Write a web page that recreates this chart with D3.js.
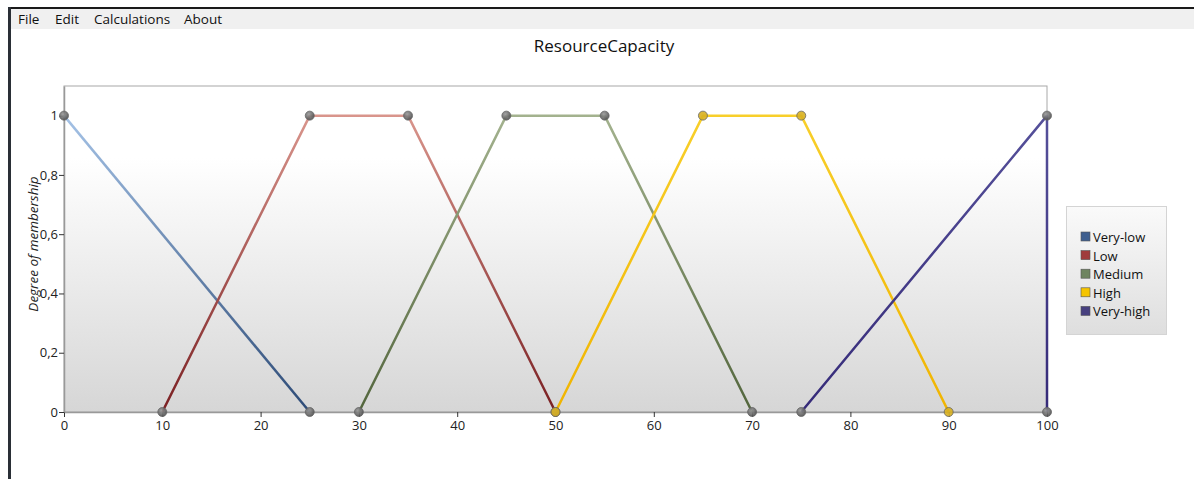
<!DOCTYPE html>
<html>
<head>
<meta charset="utf-8">
<script src="https://cdn.jsdelivr.net/npm/d3@7"></script>
<style>
  html, body { margin: 0; padding: 0; background: #fff; }
  svg { display: block; font-family: "Open Sans", "Noto Sans", sans-serif; }
</style>
</head>
<body>
<svg id="chart" width="1194" height="479"></svg>
<script>
// Membership functions of the "ResourceCapacity" linguistic variable
const seriesNames = ["Very-low", "Low", "Medium", "High", "Very-high"];
const xVeryLow  = [0, 25];           const yVeryLow  = [1, 0];
const xLow      = [10, 25, 35, 50];  const yLow      = [0, 1, 1, 0];
const xMedium   = [30, 45, 55, 70];  const yMedium   = [0, 1, 1, 0];
const xHigh     = [50, 65, 75, 90];  const yHigh     = [0, 1, 1, 0];
const xVeryHigh = [75, 100, 100];    const yVeryHigh = [0, 1, 0];
const xTicks = [0, 10, 20, 30, 40, 50, 60, 70, 80, 90, 100];
const yTicks = [0, 0.2, 0.4, 0.6, 0.8, 1];
const menuItems = ["File", "Edit", "Calculations", "About"];

// Line colours: light at the top of the plot, darker toward the bottom
const lineColors = [
  ["#a4c2e6", "#2c4a76"],
  ["#d9958c", "#7a1f22"],
  ["#a3b28e", "#52653c"],
  ["#f8cf2a", "#f0b400"],
  ["#55509a", "#352a78"]
];
const swatchColors = ["#3f5f8f", "#a03c3c", "#6f8560", "#f5c400", "#47407f"];

const series = [
  [xVeryLow, yVeryLow], [xLow, yLow], [xMedium, yMedium], [xHigh, yHigh], [xVeryHigh, yVeryHigh]
].map(([xs, ys], i) => ({ name: seriesNames[i], pts: xs.map((x, j) => ({ x, y: ys[j] })) }));

const svg = d3.select("#chart");
const defs = svg.append("defs");

// Window frame and menu bar
svg.append("rect").attr("x", 0).attr("y", 0).attr("width", 1194).attr("height", 479).attr("fill", "#fff");
svg.append("rect").attr("x", 10).attr("y", 9).attr("width", 1184).attr("height", 20).attr("fill", "#f0f0f0");
svg.append("rect").attr("x", 8).attr("y", 7).attr("width", 1186).attr("height", 2).attr("fill", "#1a1a1a");
svg.append("rect").attr("x", 8).attr("y", 7).attr("width", 3).attr("height", 472).attr("fill", "#2a2f36");
const menuX = [18, 55, 94, 184];
svg.selectAll("text.menu").data(menuItems).join("text")
  .attr("class", "menu").attr("x", (d, i) => menuX[i]).attr("y", 24)
  .attr("font-size", 13.5).attr("fill", "#111").text(d => d);

// Plot geometry
const margin = { left: 64, right: 1047, top: 86, bottom: 412 };
const x = d3.scaleLinear().domain([0, 100]).range([margin.left, margin.right]);
const y = d3.scaleLinear().domain([0, 1.1]).range([margin.bottom, margin.top]);

// Plot background gradient
const bg = defs.append("linearGradient").attr("id", "plotBg")
  .attr("x1", 0).attr("y1", 0).attr("x2", 0).attr("y2", 1);
bg.append("stop").attr("offset", "0%").attr("stop-color", "#ffffff");
bg.append("stop").attr("offset", "22%").attr("stop-color", "#ffffff");
bg.append("stop").attr("offset", "100%").attr("stop-color", "#d6d6d6");
svg.append("rect")
  .attr("x", x(0)).attr("y", y(1.1))
  .attr("width", x(100) - x(0)).attr("height", y(0) - y(1.1))
  .attr("fill", "url(#plotBg)").attr("stroke", "#a8a8a8").attr("stroke-width", 1);

// Title
svg.append("text").attr("x", 604).attr("y", 52).attr("text-anchor", "middle")
  .attr("font-size", 17).attr("fill", "#111").text("ResourceCapacity");

// Axes
const xAxis = svg.append("g").attr("transform", `translate(0,${y(0)})`)
  .call(d3.axisBottom(x).tickValues(xTicks).tickSize(5).tickSizeOuter(0).tickPadding(4));
const yAxis = svg.append("g").attr("transform", `translate(${x(0)},0)`)
  .call(d3.axisLeft(y).tickValues(yTicks).tickSize(5).tickSizeOuter(0).tickPadding(1)
    .tickFormat(d => d === 0 || d === 1 ? String(d) : d3.format(".1f")(d).replace(".", ",")));
[xAxis, yAxis].forEach(g => {
  g.select(".domain").attr("stroke", "#999").attr("stroke-width", 1.5);
  g.selectAll(".tick line").attr("stroke", "#333");
  g.selectAll(".tick text").attr("font-size", 13).attr("fill", "#222").attr("font-family", "\"Open Sans\", sans-serif");
});

// Y axis title
svg.append("text")
  .attr("transform", `translate(38,${(y(0) + y(1.1)) / 2 - 5}) rotate(-90)`)
  .attr("text-anchor", "middle").attr("font-size", 13.5).attr("font-style", "italic")
  .attr("fill", "#222").text("Degree of membership");

// Line gradients (vertical, in user space)
series.forEach((s, i) => {
  const g = defs.append("linearGradient").attr("id", "lg" + i)
    .attr("gradientUnits", "userSpaceOnUse")
    .attr("x1", 0).attr("x2", 0).attr("y1", y(1)).attr("y2", y(0));
  g.append("stop").attr("offset", "0%").attr("stop-color", lineColors[i][0]);
  g.append("stop").attr("offset", "100%").attr("stop-color", lineColors[i][1]);
});

const line = d3.line().x(d => x(d.x)).y(d => y(d.y));
svg.append("g").selectAll("path").data(series).join("path")
  .attr("d", d => line(d.pts))
  .attr("fill", "none")
  .attr("stroke", (d, i) => `url(#lg${i})`)
  .attr("stroke-width", 2.5)
  .attr("stroke-linejoin", "round");

// Point markers
const mk = defs.append("radialGradient").attr("id", "marker")
  .attr("cx", "40%").attr("cy", "35%").attr("r", "65%");
mk.append("stop").attr("offset", "0%").attr("stop-color", "#9a9a9a");
mk.append("stop").attr("offset", "100%").attr("stop-color", "#4e4e4e");
series.forEach((s, i) => {
  svg.append("g").selectAll("circle").data(s.pts).join("circle")
    .attr("cx", d => x(d.x)).attr("cy", d => y(d.y)).attr("r", 4.5)
    .attr("fill", i === 3 ? "#d8b020" : "url(#marker)")
    .attr("stroke", "#666").attr("stroke-width", 0.8)
    .attr("fill-opacity", 0.9);
});

// Legend
const lgBg = defs.append("linearGradient").attr("id", "legendBg")
  .attr("x1", 0).attr("y1", 0).attr("x2", 0).attr("y2", 1);
lgBg.append("stop").attr("offset", "0%").attr("stop-color", "#fafafa");
lgBg.append("stop").attr("offset", "100%").attr("stop-color", "#dedede");
svg.append("rect").attr("x", 1066.5).attr("y", 206.5).attr("width", 100).attr("height", 128)
  .attr("fill", "url(#legendBg)").attr("stroke", "#d4d4d4");
const legend = svg.append("g").selectAll("g").data(seriesNames).join("g")
  .attr("transform", (d, i) => `translate(1081,${237 + i * 18.6})`);
legend.append("rect").attr("x", 0).attr("y", -5).attr("width", 9).attr("height", 9)
  .attr("fill", (d, i) => swatchColors[i]).attr("stroke", "#555").attr("stroke-width", 0.6);
legend.append("text").attr("x", 12).attr("y", 5).attr("font-size", 13).attr("fill", "#111").text(d => d);
</script>
</body>
</html>
